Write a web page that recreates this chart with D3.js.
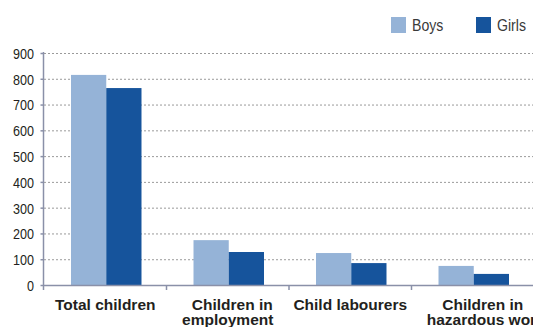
<!DOCTYPE html>
<html><head><meta charset="utf-8">
<script src="https://cdn.jsdelivr.net/npm/d3@7"></script>
<style>
html,body{margin:0;padding:0;background:#fff;overflow:hidden;}
svg{display:block;}
text{font-family:"Liberation Sans",Arial,sans-serif;}
</style></head>
<body>
<svg id="chart" width="533" height="327"></svg>
<script>
const categories = [["Total children"],["Children in","employment"],["Child labourers"],["Children in","hazardous work"]];
const seriesNames = ["Boys","Girls"];
const boys = [815, 174, 124, 74];
const girls = [764, 128, 85, 43];
const yTicks = [0,100,200,300,400,500,600,700,800,900];
const colors = {"Boys":"#95b3d7","Girls":"#16549c"};

(function(){
const svg = d3.select("#chart");
const mLeft = 44, mRight = 534, mTop = 53, mBottom = 285;
const catKeys = categories.map(c => c.join(" "));
const x = d3.scaleBand().domain(catKeys).range([mLeft, mRight]).paddingInner(0).paddingOuter(0);
const xs = d3.scaleBand().domain(seriesNames).range([0, x.bandwidth()]).paddingInner(0).paddingOuter(0.738);
const y = d3.scaleLinear().domain([0, 900]).range([mBottom, mTop]);
const narrow = 0.84;

// gridlines
svg.append("g").selectAll("line").data(yTicks.filter(t => t > 0)).join("line")
  .attr("x1", mLeft).attr("x2", 533)
  .attr("y1", d => y(d) + 0.5).attr("y2", d => y(d) + 0.5)
  .attr("stroke", "#9a9a9a").attr("stroke-width", 1).attr("stroke-dasharray", "2,2");

// bars
const data = catKeys.map((k, i) => ({k, vals: [{s:"Boys", v: boys[i]}, {s:"Girls", v: girls[i]}]}));
const g = svg.append("g").selectAll("g").data(data).join("g")
  .attr("transform", d => `translate(${x(d.k) + 1},0)`);
g.selectAll("rect").data(d => d.vals).join("rect")
  .attr("x", d => xs(d.s)).attr("width", xs.bandwidth())
  .attr("y", d => y(d.v)).attr("height", d => y(0) - y(d.v))
  .attr("fill", d => colors[d.s]);

const axisColor = "#8a90a8";
// y axis
const yAxis = svg.append("g").attr("transform", `translate(${mLeft - 0.5},0)`)
  .call(d3.axisLeft(y).tickValues(yTicks).tickSize(3).tickPadding(6).tickSizeOuter(0));
yAxis.select(".domain").remove();
yAxis.append("line").attr("x1", 0).attr("x2", 0).attr("y1", mTop - 1).attr("y2", mBottom + 5)
  .attr("stroke", axisColor).attr("stroke-width", 1.5);
yAxis.selectAll(".tick line").attr("stroke", axisColor).attr("stroke-width", 1.5);
yAxis.selectAll(".tick text")
  .attr("fill", "#231f20").style("font-size", "15px")
  .attr("x", -9.5 / narrow).attr("dy", "0.36em")
  .attr("transform", `scale(${narrow},1)`);

// x axis
svg.append("line").attr("x1", mLeft).attr("x2", 533).attr("y1", mBottom + 0.5).attr("y2", mBottom + 0.5)
  .attr("stroke", axisColor).attr("stroke-width", 1.5);
svg.append("g").selectAll("line").data(catKeys.slice(1)).join("line")
  .attr("x1", d => x(d)).attr("x2", d => x(d))
  .attr("y1", mBottom).attr("y2", mBottom + 5)
  .attr("stroke", axisColor).attr("stroke-width", 1.5);

// category labels (per-line horizontal shift, matching the reference's layout)
const lineShift = [[0], [4.5, 0], [0], [10, 13]];
const lab = svg.append("g").selectAll("text").data(categories).join("text")
  .attr("y", 310)
  .attr("text-anchor", "middle")
  .attr("fill", "#231f20")
  .style("font-size", "15.5px").style("font-weight", "bold");
lab.each(function(d, i){
  const cx = x(catKeys[i]) + x.bandwidth() / 2;
  d3.select(this).selectAll("tspan").data(d).join("tspan")
    .attr("x", (t, j) => cx + lineShift[i][j])
    .attr("y", (t, j) => 310 + j * 14.5)
    .text(t => t);
});

// legend
const leg = svg.append("g").selectAll("g").data(seriesNames).join("g")
  .attr("transform", (d, i) => `translate(${391 + i * 85},17)`);
leg.append("rect").attr("width", 15).attr("height", 16).attr("fill", d => colors[d]);
leg.append("text").attr("transform", "translate(21,14) scale(0.83,1)").text(d => d)
  .attr("fill", "#3a3a3a").style("font-size", "17px");
})();
</script>
</body></html>
